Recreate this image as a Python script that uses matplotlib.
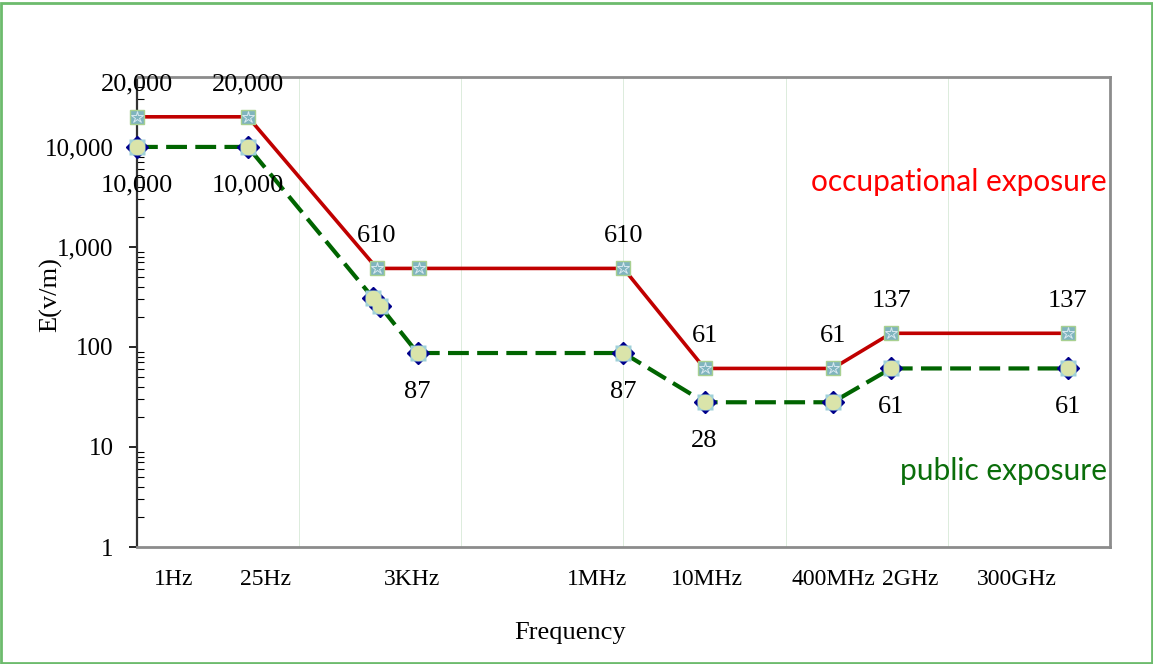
import matplotlib
matplotlib.use('Agg')
import matplotlib.pyplot as plt
from matplotlib.patches import Rectangle

# positions on the horizontal axis (0..6, one unit per grid cell)
occ_x = [0.0, 0.684, 1.48, 1.74, 3.0, 3.50, 4.29, 4.65, 5.74]
occ_y = [20000, 20000, 610, 610, 610, 61, 61, 137, 137]
occ_lab = ['20,000', '20,000', '610', None, '610', '61', '61', '137', '137']

pub_x = [0.0, 0.684, 1.455, 1.50, 1.73, 3.0, 3.50, 4.29, 4.65, 5.74]
pub_y = [10000, 10000, 310, 255, 87, 87, 28, 28, 61, 61]
pub_lab = ['10,000', '10,000', None, None, '87', '87', '28', None, '61', '61']

freq_pos = [0.228, 0.795, 1.695, 2.836, 3.514, 4.297, 4.766, 5.425]
freq_lab = ['1Hz', '25Hz', '3KHz', '1MHz', '10MHz', '400MHz', '2GHz', '300GHz']

y_ticks = [1, 10, 100, 1000, 10000]
y_lab = ['1', '10', '100', '1,000', '10,000']

serif = 'Liberation Serif'
fs = 19

fig = plt.figure(figsize=(11.53, 6.64), dpi=100)
ax = fig.add_axes([0.1188, 0.1762, 0.8439, 0.7078])

# public exposure (green dashed)
ax.plot(pub_x, pub_y, color='#006400', lw=3, dashes=(5, 2), zorder=2)
ax.plot(pub_x, pub_y, ls='none', marker='D', ms=11, mfc='#00008b', mec='#00008b', zorder=3, clip_on=False)
ax.plot(pub_x, pub_y, ls='none', marker='s', ms=11, mfc='#9fd0d8', mec='none', zorder=4, clip_on=False)
ax.plot(pub_x, pub_y, ls='none', marker='o', ms=11, mfc='#dae4aa', mec='none', zorder=5, clip_on=False)

# occupational exposure (red solid)
ax.plot(occ_x, occ_y, color='#c00000', lw=2.6, zorder=6)
ax.plot(occ_x, occ_y, ls='none', marker='s', ms=10, mfc='#7fb4be', mec='#a8d090', mew=1, zorder=7, clip_on=False)
ax.plot(occ_x, occ_y, ls='none', marker='*', ms=9, mfc='none', mec='#d8e8f0', mew=0.7, zorder=8, clip_on=False)

for x, y, t in zip(occ_x, occ_y, occ_lab):
    if t:
        ax.annotate(t, (x, y), xytext=(0, 23), textcoords='offset points',
                    ha='center', va='center', fontsize=fs, family=serif, zorder=9)
for x, y, t in zip(pub_x, pub_y, pub_lab):
    if t:
        ax.annotate(t, (x, y), xytext=(0, -28), textcoords='offset points',
                    ha='center', va='center', fontsize=fs, family=serif, zorder=9)

ax.set_yscale('log')
ax.set_ylim(1, 50000)
ax.set_xlim(0, 6)
ax.set_yticks(y_ticks, y_lab)
ax.tick_params(axis='y', which='major', direction='out', length=6, width=1.2,
               labelsize=18, pad=11)
ax.tick_params(axis='y', which='minor', direction='in', length=5, width=0.8)
for lbl in ax.get_yticklabels():
    lbl.set_family(serif)

ax.set_xticks(freq_pos, freq_lab)
ax.set_xticks(range(1, 6), minor=True)
ax.tick_params(axis='x', which='both', length=0, labelsize=17, pad=16)
for lbl in ax.get_xticklabels():
    lbl.set_family(serif)
ax.grid(axis='x', which='minor', color='#dcecdc', lw=0.7)
ax.set_axisbelow(True)

ax.set_ylabel('E(v/m)', fontsize=19, family=serif)
ax.yaxis.set_label_coords(-0.077, 0.538)
fig.text(0.494, 0.0467, 'Frequency', ha='center', va='center', fontsize=19, family=serif)

for s in ['top', 'right', 'bottom']:
    ax.spines[s].set_color('#8c8c8c')
    ax.spines[s].set_linewidth(2)
ax.spines['left'].set_color('#333333')
ax.spines['left'].set_linewidth(1.6)

ax.text(0.997, 0.777, 'occupational exposure', transform=ax.transAxes, ha='right',
        va='center', color='#ff0000', fontsize=21.5, family='Lato')
ax.text(0.997, 0.161, 'public exposure', transform=ax.transAxes, ha='right',
        va='center', color='#0a6e0a', fontsize=21.5, family='Lato')

fig.patches.append(Rectangle((0.001, 0.002), 0.998, 0.994, transform=fig.transFigure,
                             fill=False, edgecolor='#6dbb6d', lw=2))

fig.savefig('out.png', dpi=100)
